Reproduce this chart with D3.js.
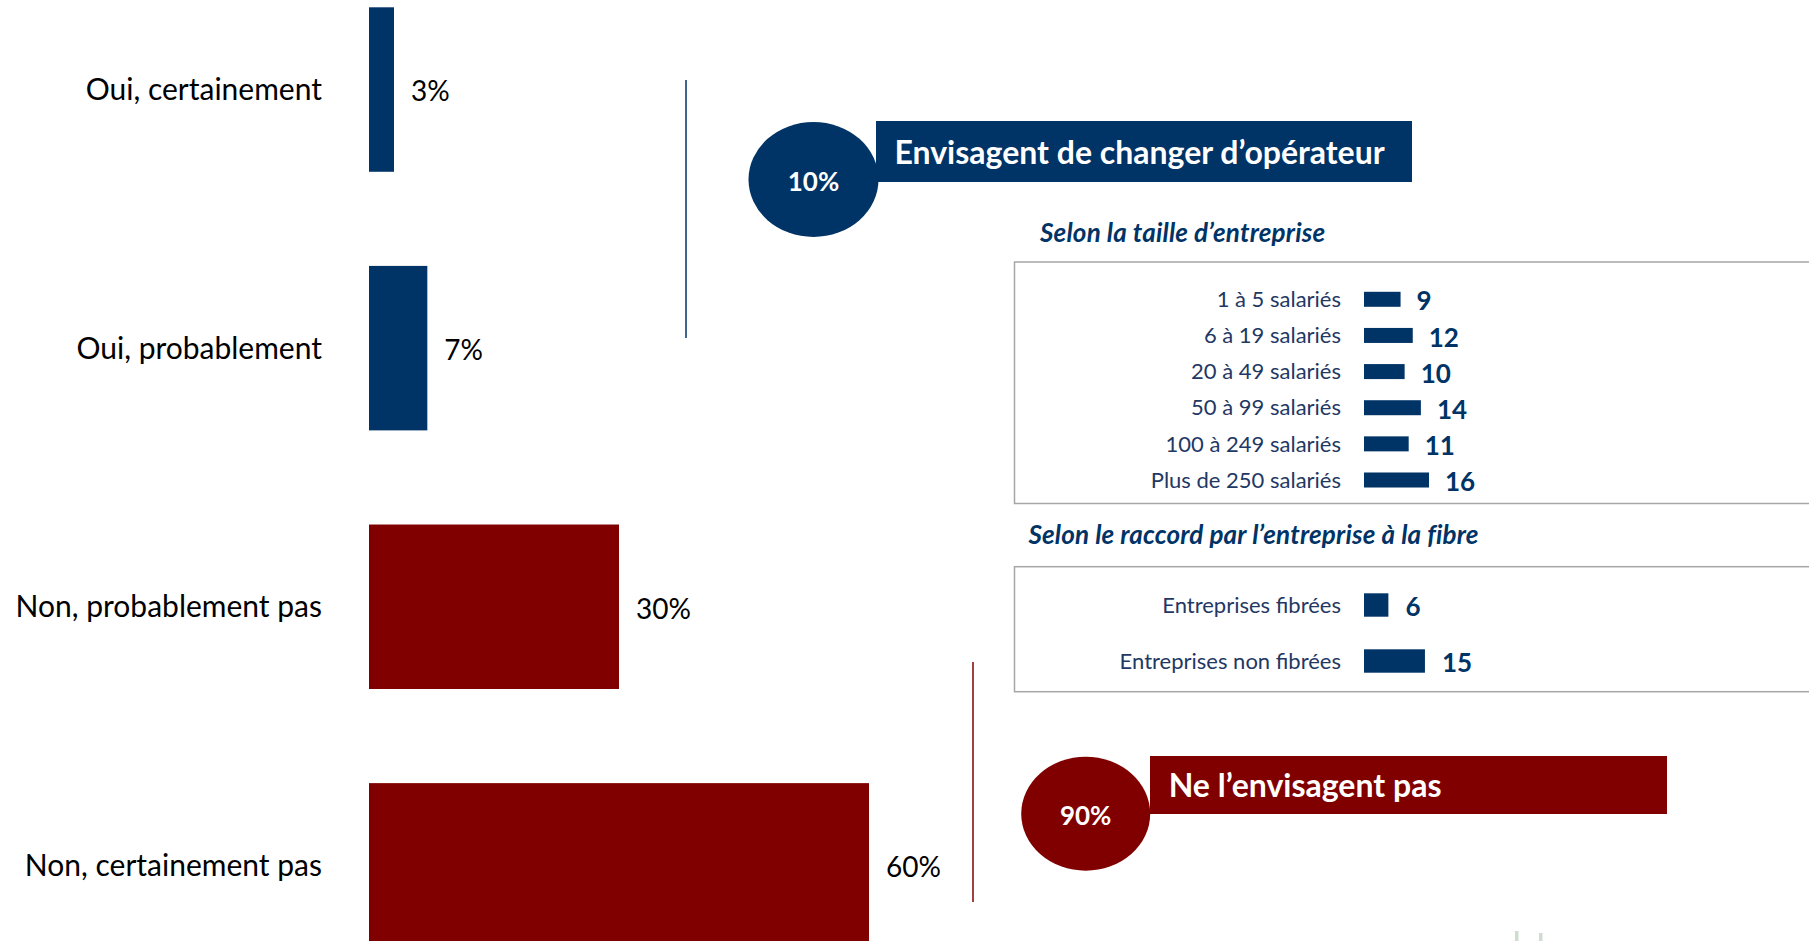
<!DOCTYPE html>
<html>
<head>
<meta charset="utf-8">
<script src="https://cdn.jsdelivr.net/npm/d3@7"></script>
<style>
  html, body { margin: 0; padding: 0; background: #fff; overflow: hidden; }
  svg { display: block; font-family: Lato, "Open Sans", sans-serif; }
</style>
</head>
<body>
<svg id="chart" width="1809" height="941"></svg>
<script>
// ---- Data ----
const mainCategories = ["Oui, certainement", "Oui, probablement", "Non, probablement pas", "Non, certainement pas"];
const mainValues = [3, 7, 30, 60];
const mainGroups = ["oui", "oui", "non", "non"];

const totalLabels = ["10%", "90%"];
const totalTitles = ["Envisagent de changer d\u2019op\u00e9rateur", "Ne l\u2019envisagent pas"];

const subtitleSize = "Selon la taille d\u2019entreprise";
const sizeCategories = ["1 \u00e0 5 salari\u00e9s", "6 \u00e0 19 salari\u00e9s", "20 \u00e0 49 salari\u00e9s", "50 \u00e0 99 salari\u00e9s", "100 \u00e0 249 salari\u00e9s", "Plus de 250 salari\u00e9s"];
const sizeValues = [9, 12, 10, 14, 11, 16];

const subtitleFibre = "Selon le raccord par l\u2019entreprise \u00e0 la fibre";
const fibreCategories = ["Entreprises fibr\u00e9es", "Entreprises non fibr\u00e9es"];
const fibreValues = [6, 15];

// ---- Styles ----
const BLUE = "#003366";
const RED = "#800000";
const TEXT_BLUE = "#1f3864";

const svg = d3.select("#chart");

// ---- Main bar chart ----
const x = d3.scaleLinear().domain([0, 60]).range([369, 869]);
const y = d3.scaleBand().domain(mainCategories).range([7.3, 947.6]).paddingInner(0.364).paddingOuter(0);
const color = g => g === "oui" ? BLUE : RED;

const main = svg.append("g");
main.selectAll("rect.bar").data(mainCategories).join("rect")
  .attr("class", "bar")
  .attr("x", x(0))
  .attr("y", d => y(d))
  .attr("width", (d, i) => x(mainValues[i]) - x(0))
  .attr("height", y.bandwidth())
  .attr("fill", (d, i) => color(mainGroups[i]));

main.selectAll("text.cat").data(mainCategories).join("text")
  .attr("class", "cat")
  .attr("x", 322)
  .attr("y", d => y(d) + y.bandwidth() / 2)
  .attr("dy", "0.35em")
  .attr("text-anchor", "end")
  .attr("font-size", 30)
  .attr("fill", "#000")
  .text(d => d);

main.selectAll("text.val").data(mainCategories).join("text")
  .attr("class", "val")
  .attr("x", (d, i) => x(mainValues[i]) + 17)
  .attr("y", d => y(d) + y.bandwidth() / 2 + 2)
  .attr("dy", "0.35em")
  .attr("font-size", 28)
  .attr("fill", "#000")
  .text((d, i) => mainValues[i] + "%");

// bracket lines
svg.append("line").attr("x1", 686).attr("x2", 686).attr("y1", 80).attr("y2", 338)
  .attr("stroke", BLUE).attr("stroke-width", 1.5);
svg.append("line").attr("x1", 973).attr("x2", 973).attr("y1", 662).attr("y2", 902)
  .attr("stroke", RED).attr("stroke-width", 1.5);

// ---- Callouts ----
function callout(cx, cy, rx, ry, rectX, rectY, rectW, rectH, fill, pct, title, titleX) {
  const g = svg.append("g");
  g.append("rect").attr("x", rectX).attr("y", rectY).attr("width", rectW).attr("height", rectH).attr("fill", fill);
  g.append("ellipse").attr("cx", cx).attr("cy", cy).attr("rx", rx).attr("ry", ry).attr("fill", fill);
  g.append("text").attr("x", cx).attr("y", cy + 2).attr("dy", "0.35em").attr("text-anchor", "middle")
    .attr("font-size", 26).attr("font-weight", "bold").attr("fill", "#fff").text(pct);
  g.append("text").attr("x", titleX).attr("y", rectY + rectH / 2 + 1).attr("dy", "0.35em")
    .attr("font-size", 32).attr("font-weight", "bold").attr("fill", "#fff").text(title);
}
callout(813.5, 179.5, 65, 57.5, 876, 121, 536, 61, BLUE, totalLabels[0], totalTitles[0], 894.5);
callout(1085.7, 813.7, 64.5, 57, 1150, 756, 517, 58, RED, totalLabels[1], totalTitles[1], 1168.7);

// ---- Sub charts ----
const xs = d3.scaleLinear().domain([0, 16]).range([1364, 1429]);

// subtitle 1
svg.append("text").attr("x", 1040).attr("y", 233).attr("dy", "0.35em")
  .attr("font-size", 26).attr("letter-spacing", 0.2).attr("font-weight", "bold").attr("font-style", "italic")
  .attr("fill", BLUE).text(subtitleSize);

// box 1
svg.append("rect").attr("x", 1014.5).attr("y", 262).attr("width", 900).attr("height", 241.5)
  .attr("fill", "none").attr("stroke", "#a6a6a6").attr("stroke-width", 1.5);

const ySize = d3.scalePoint().domain(sizeCategories).range([299.3, 480]);
const gs = svg.append("g");
gs.selectAll("rect").data(sizeCategories).join("rect")
  .attr("x", xs(0)).attr("y", d => ySize(d) - 7.5)
  .attr("width", (d, i) => xs(sizeValues[i]) - xs(0)).attr("height", 15)
  .attr("fill", BLUE);
gs.selectAll("text.cat").data(sizeCategories).join("text")
  .attr("class", "cat")
  .attr("x", 1341).attr("y", d => ySize(d)).attr("dy", "0.35em")
  .attr("text-anchor", "end").attr("font-size", 22).attr("fill", TEXT_BLUE).text(d => d);
gs.selectAll("text.val").data(sizeCategories).join("text")
  .attr("class", "val")
  .attr("x", (d, i) => xs(sizeValues[i]) + 16).attr("y", d => ySize(d) + 2).attr("dy", "0.35em")
  .attr("font-size", 26).attr("font-weight", "bold").attr("fill", BLUE).text((d, i) => sizeValues[i]);

// subtitle 2
svg.append("text").attr("x", 1028.4).attr("y", 535).attr("dy", "0.35em")
  .attr("font-size", 26).attr("letter-spacing", 0.2).attr("font-weight", "bold").attr("font-style", "italic")
  .attr("fill", BLUE).text(subtitleFibre);

// box 2
svg.append("rect").attr("x", 1014.5).attr("y", 566.7).attr("width", 900).attr("height", 125)
  .attr("fill", "none").attr("stroke", "#a6a6a6").attr("stroke-width", 1.5);

const yFib = d3.scalePoint().domain(fibreCategories).range([605, 661]);
const gf = svg.append("g");
gf.selectAll("rect").data(fibreCategories).join("rect")
  .attr("x", xs(0)).attr("y", d => yFib(d) - 11.7)
  .attr("width", (d, i) => xs(fibreValues[i]) - xs(0)).attr("height", 23.4)
  .attr("fill", BLUE);
gf.selectAll("text.cat").data(fibreCategories).join("text")
  .attr("class", "cat")
  .attr("x", 1341).attr("y", d => yFib(d)).attr("dy", "0.35em")
  .attr("text-anchor", "end").attr("font-size", 22).attr("fill", TEXT_BLUE).text(d => d);
gf.selectAll("text.val").data(fibreCategories).join("text")
  .attr("class", "val")
  .attr("x", (d, i) => xs(fibreValues[i]) + 17).attr("y", d => yFib(d) + 2).attr("dy", "0.35em")
  .attr("font-size", 26).attr("font-weight", "bold").attr("fill", BLUE).text((d, i) => fibreValues[i]);

// small decorative marks at the bottom
svg.append("rect").attr("x", 1515).attr("y", 931).attr("width", 3.5).attr("height", 10).attr("fill", "#cfdccf");
svg.append("rect").attr("x", 1539).attr("y", 933).attr("width", 3.5).attr("height", 8).attr("fill", "#cfdccf");
</script>
</body>
</html>
